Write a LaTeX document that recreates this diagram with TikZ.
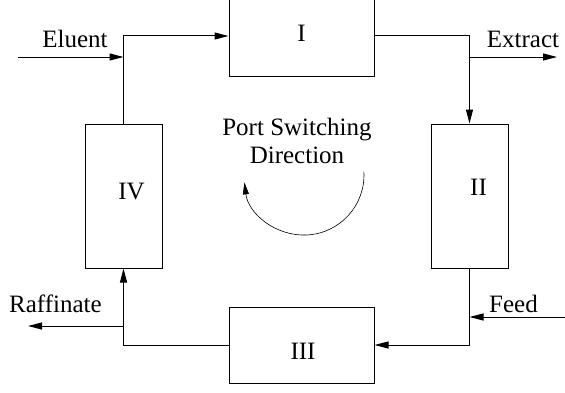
\documentclass[tikz,border=0pt]{standalone}
\usepackage{fontspec}
\setmainfont{Liberation Serif}
\usetikzlibrary{arrows.meta}

\begin{document}
\begin{tikzpicture}[x=1pt, y=1pt,
    saeule/.style={draw, line width=1pt, minimum width=77pt, minimum height=144pt, inner sep=0pt},
    zone/.style={draw, line width=1pt, minimum width=145pt, minimum height=76pt, inner sep=0pt},
    strom/.style={-{Triangle[length=14pt,width=7pt]}, line width=1pt},
    txt/.style={font=\fontsize{25}{28}\selectfont, inner sep=0pt}]
  \useasboundingbox (0,0) rectangle (565,392);

  % Zonen I bis IV
  \node[zone, minimum height=80pt] (I) at (301.5,356) {};
  \node[saeule] (II) at (469.5,196) {};
  \node[zone] (III) at (301.5,47) {};
  \node[saeule] (IV) at (123.5,196) {};
  \node[txt] (lI) at ([yshift=2.5pt]I.center) {I};
  \node[txt] (lII) at ([xshift=9pt,yshift=9pt]II.center) {II};
  \node[txt] (lIII) at ([xshift=1.5pt,yshift=-6.5pt]III.center) {III};
  \node[txt] (lIV) at ([xshift=8pt,yshift=4pt]IV.center) {IV};

  % Kreislauf
  \draw[strom] (IV.north) |- (I.west);
  \draw[strom] (I.east) -| (II.north);
  \draw[strom] (II.south) |- (III.east);
  \draw[strom] (III.west) -| (IV.south);

  % Zu- und Abläufe
  \coordinate (eluent) at (18,335);
  \coordinate (extract) at (557,335);
  \coordinate (feed) at (565,75);
  \coordinate (raffinate) at (28,66);
  \draw[strom] (eluent) -- (eluent -| IV.north);
  \draw[strom] (extract -| II.north) -- (extract);
  \draw[strom] (feed) -- (feed -| II.south);
  \draw[strom] (raffinate -| IV.south) -- (raffinate);
  \node[txt] (eluenttxt) at (75,353.5) {Eluent};
  \node[txt] (extracttxt) at (523,353) {Extract};
  \node[txt] (feedtxt) at (513.5,88.5) {Feed};
  \node[txt] (raffinatetxt) at (55.5,88.5) {Raffinate};

  % Schaltrichtung
  \node[txt, align=center] (richtung) at (297,251.5) {Port Switching\\Direction};
  \coordinate (bogen) at (363.9,220.1);
  \draw[-{Triangle[length=12pt,width=6pt]}, line width=0.6pt]
    (bogen) arc[start angle=3, end angle=-173, radius=60];
\end{tikzpicture}
\end{document}
